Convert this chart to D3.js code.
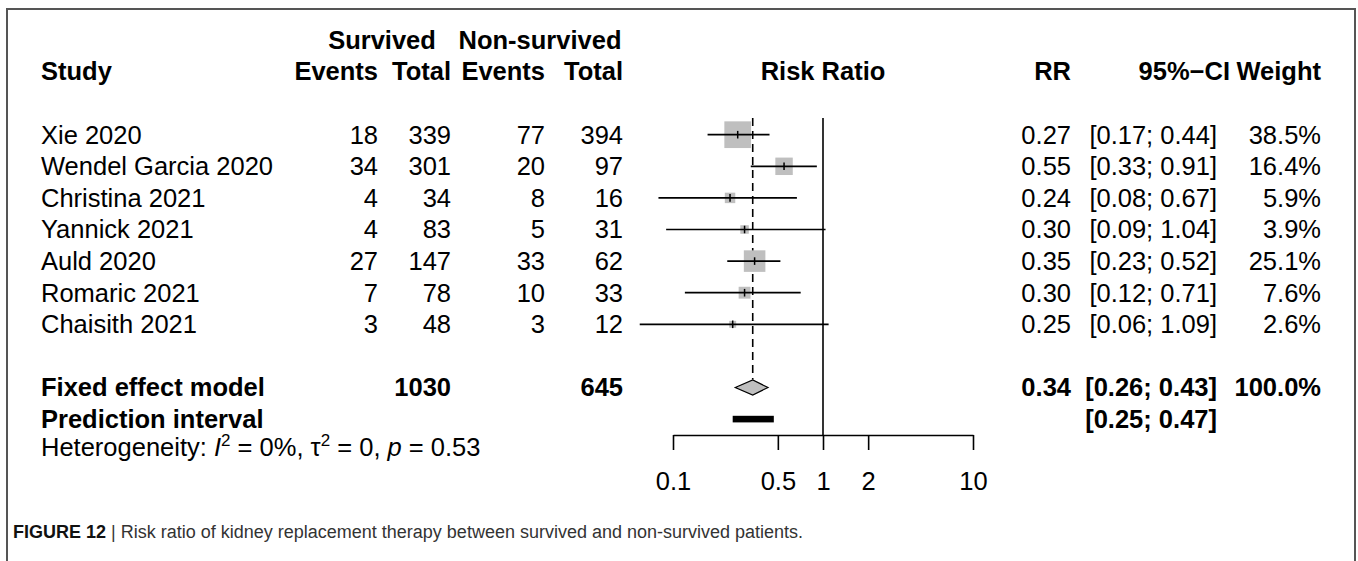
<!DOCTYPE html>
<html>
<head>
<meta charset="utf-8">
<script src="https://cdn.jsdelivr.net/npm/d3@7"></script>
<style>
  body { margin: 0; background: #fff; }
  svg { display: block; font-family: "Liberation Sans", Arial, Helvetica, sans-serif; }
</style>
</head>
<body>
<svg id="forest" width="1358" height="561"></svg>
<script>
// study data
const studies = ["Xie 2020", "Wendel Garcia 2020", "Christina 2021", "Yannick 2021", "Auld 2020", "Romaric 2021", "Chaisith 2021"];
const eventsSurv = [18, 34, 4, 4, 27, 7, 3];
const totalSurv = [339, 301, 34, 83, 147, 78, 48];
const eventsNon = [77, 20, 8, 5, 33, 10, 3];
const totalNon = [394, 97, 16, 31, 62, 33, 12];
const rr = [0.27, 0.55, 0.24, 0.30, 0.35, 0.30, 0.25];
const lower = [0.17, 0.33, 0.08, 0.09, 0.23, 0.12, 0.06];
const upper = [0.44, 0.91, 0.67, 1.04, 0.52, 0.71, 1.09];
const weight = [38.5, 16.4, 5.9, 3.9, 25.1, 7.6, 2.6];

const pooled = { rr: 0.34, lower: 0.26, upper: 0.43, totalSurv: 1030, totalNon: 645 };
const predInterval = [0.25, 0.47];
const axisTicks = [0.1, 0.5, 1, 2, 10];

const svg = d3.select("svg#forest");
const fs = 25.5;

const x = d3.scaleLog().domain([0.1, 10]).range([673, 973]);
// row index -> vertical centre
const y = d3.scaleLinear().domain([0, 1]).range([134.7, 166.3]);
const size = d3.scaleSqrt().domain([0, 38.5]).range([0, 26.7]);
const f2 = d3.format(".2f");
const pct = d => d3.format(".1f")(d) + "%";
const ci = (l, u) => `[${f2(l)}; ${f2(u)}]`;

// frame
svg.append("path")
   .attr("d", "M7,561V9H1355V561")
   .attr("fill", "none")
   .attr("stroke", "#555")
   .attr("stroke-width", 2);

function txt(xp, yp, s, anchor, bold) {
  return svg.append("text")
            .attr("x", xp)
            .attr("y", yp)
            .attr("dy", "0.35em")
            .attr("text-anchor", anchor)
            .attr("font-size", fs)
            .attr("font-weight", bold ? "bold" : "normal")
            .text(s);
}

// column positions (right edges, except study)
const col = { study: 41, evS: 378, totS: 451, evN: 545, totN: 623, rr: 1071, ci: 1217, w: 1321 };

// headers
txt(382, y(-3), "Survived", "middle", true);
txt(540, y(-3), "Non-survived", "middle", true);
txt(col.study, y(-2), "Study", "start", true);
txt(col.evS, y(-2), "Events", "end", true);
txt(col.totS, y(-2), "Total", "end", true);
txt(col.evN, y(-2), "Events", "end", true);
txt(col.totN, y(-2), "Total", "end", true);
txt(x(1), y(-2), "Risk Ratio", "middle", true);
txt(col.rr, y(-2), "RR", "end", true);
txt(1230, y(-2), "95%\u2212CI", "end", true);
txt(col.w, y(-2), "Weight", "end", true);

// study rows
studies.forEach((s, i) => {
  txt(col.study, y(i), s, "start");
  txt(col.evS, y(i), eventsSurv[i], "end");
  txt(col.totS, y(i), totalSurv[i], "end");
  txt(col.evN, y(i), eventsNon[i], "end");
  txt(col.totN, y(i), totalNon[i], "end");
  txt(col.rr, y(i), f2(rr[i]), "end");
  txt(col.ci, y(i), ci(lower[i], upper[i]), "end");
  txt(col.w, y(i), pct(weight[i]), "end");
});

// summary rows
txt(col.study, y(8), "Fixed effect model", "start", true);
txt(col.totS, y(8), pooled.totalSurv, "end", true);
txt(col.totN, y(8), pooled.totalNon, "end", true);
txt(col.rr, y(8), f2(pooled.rr), "end", true);
txt(col.ci, y(8), ci(pooled.lower, pooled.upper), "end", true);
txt(col.w, y(8), pct(100), "end", true);
txt(col.study, y(9), "Prediction interval", "start", true);
txt(col.ci, y(9), ci(predInterval[0], predInterval[1]), "end", true);

const het = txt(col.study, 447, "", "start");
het.append("tspan").text("Heterogeneity: ");
het.append("tspan").attr("font-style", "italic").text("I");
het.append("tspan").attr("font-size", 17).attr("dy", -10).text("2");
het.append("tspan").attr("dy", 10).text(" = 0%, \u03c4");
het.append("tspan").attr("font-size", 17).attr("dy", -10).text("2");
het.append("tspan").attr("dy", 10).text(" = 0, ");
het.append("tspan").attr("font-style", "italic").text("p");
het.append("tspan").text(" = 0.53");

// plot
const plot = svg.append("g");
const topY = 118, axisY = 435;

plot.append("line")
    .attr("x1", x(pooled.rr)).attr("x2", x(pooled.rr))
    .attr("y1", topY).attr("y2", y(8) - 8)
    .attr("stroke", "#000").attr("stroke-width", 1.6)
    .attr("stroke-dasharray", "8,5");

plot.append("line")
    .attr("x1", x(1)).attr("x2", x(1))
    .attr("y1", topY).attr("y2", axisY)
    .attr("stroke", "#000").attr("stroke-width", 1.6);

const rows = plot.selectAll("g.row")
                 .data(studies.map((s, i) => ({ i, rr: rr[i], lo: lower[i], hi: upper[i], w: weight[i] })))
                 .join("g")
                 .attr("class", "row");

rows.append("rect")
    .attr("x", d => x(d.rr) - size(d.w) / 2)
    .attr("y", d => y(d.i) - size(d.w) / 2)
    .attr("width", d => size(d.w))
    .attr("height", d => size(d.w))
    .attr("fill", "#bfbfbf");

rows.append("line")
    .attr("x1", d => x(d.lo)).attr("x2", d => x(d.hi))
    .attr("y1", d => y(d.i)).attr("y2", d => y(d.i))
    .attr("stroke", "#000").attr("stroke-width", 1.7);

rows.append("line")
    .attr("x1", d => x(d.rr)).attr("x2", d => x(d.rr))
    .attr("y1", d => y(d.i) - 3.8).attr("y2", d => y(d.i) + 3.8)
    .attr("stroke", "#000").attr("stroke-width", 1.5);

// fixed effect diamond
const dy0 = y(8);
plot.append("path")
    .attr("d", `M${x(pooled.lower)},${dy0}L${x(pooled.rr)},${dy0 - 7.5}L${x(pooled.upper)},${dy0}L${x(pooled.rr)},${dy0 + 7.5}Z`)
    .attr("fill", "#bfbfbf")
    .attr("stroke", "#000")
    .attr("stroke-width", 1.2);

// prediction interval bar
plot.append("rect")
    .attr("x", x(predInterval[0]))
    .attr("y", y(9) - 3.3)
    .attr("width", x(predInterval[1]) - x(predInterval[0]))
    .attr("height", 6.6)
    .attr("fill", "#000");

// axis
const axis = plot.append("g")
                 .attr("transform", `translate(0,${axisY})`)
                 .call(d3.axisBottom(x)
                         .tickValues(axisTicks)
                         .tickFormat(d => d)
                         .tickSize(15)
                         .tickSizeOuter(0)
                         .tickPadding(22));
axis.select(".domain").attr("stroke", "#000").attr("stroke-width", 1.6);
axis.selectAll(".tick line").attr("stroke", "#000").attr("stroke-width", 1.6);
axis.selectAll(".tick text")
    .attr("font-size", fs)
    .attr("font-family", "'Liberation Sans', Arial, sans-serif")
    .attr("fill", "#000");

// caption
const cap = svg.append("text")
               .attr("x", 13)
               .attr("y", 538)
               .attr("font-size", 18)
               .attr("fill", "#333");
cap.append("tspan").attr("font-weight", "bold").attr("fill", "#111").text("FIGURE 12");
cap.append("tspan").text(" | Risk ratio of kidney replacement therapy between survived and non-survived patients.");
</script>
</body>
</html>
